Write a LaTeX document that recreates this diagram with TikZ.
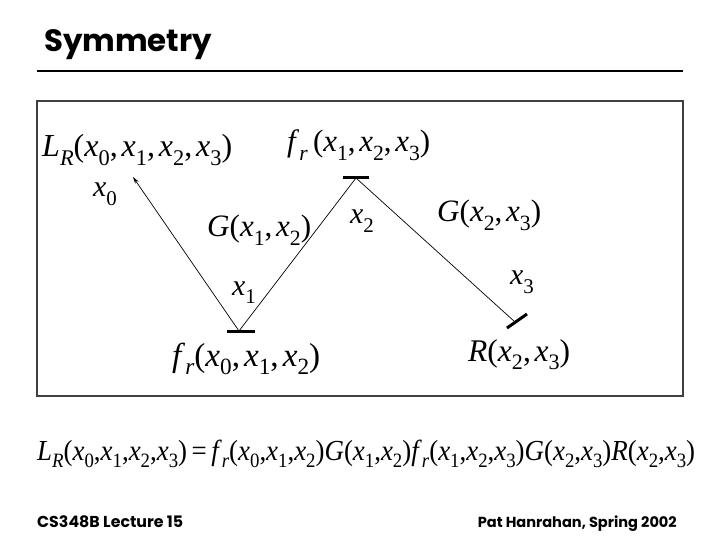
\documentclass[tikz,border=0pt]{standalone}
\usepackage{fontspec}
\setmainfont{Liberation Serif}
\newfontfamily\titlefont{Poppins}
\usetikzlibrary{arrows.meta}
\newcommand\lsub[1]{\raisebox{-0.27em}{\scalebox{0.7}{#1}}}
\newcommand\vx[1]{\textit{x}\lsub{#1}}
\newcommand\vLR{\textit{L}\lsub{\textit{R}}}
\newcommand\vfr{\textit{f}\lsub{\textit{r}}}
\newcommand\cm{,\hspace{0.12em}}
\begin{document}
\begin{tikzpicture}[x=1bp,y=-1bp,
  lab/.style={anchor=base west,inner sep=0pt,font=\fontsize{30}{30}\selectfont},
  bar/.style={line width=3bp},
  ray/.style={line width=0.7bp},
  foot/.style={inner sep=0pt,font=\titlefont\bfseries\fontsize{14.5}{15}\selectfont}]
\useasboundingbox (0,0) rectangle (720,540);
\node[anchor=base west,inner sep=0pt] (title) at (44,52) {\resizebox{168bp}{!}{\titlefont\bfseries\fontsize{32}{32}\selectfont Symmetry}};
\draw[line width=2bp] (37,71) coordinate (r1) -- (683,71) coordinate (r2);
\draw[line width=1.3bp,black!75] (37,101) rectangle (683,396);
% vertices
\coordinate (p0) at (133,177);
\coordinate (p1) at (239,331);
\coordinate (p2) at (356,178);
\coordinate (p3) at (515,322);
\draw[ray,-{Stealth[length=7bp,width=4bp]}] (p1) -- (p0);
\draw[ray] (p1) -- (p2) -- (p3);
\draw[bar] ([xshift=-12bp]p1) -- ([xshift=16bp]p1);
\draw[bar] ([xshift=-13bp]p2) -- ([xshift=13bp]p2);
\draw[bar] ([shift={(-8,6)}]p3) -- ([shift={(12,-8)}]p3);
% labels
\node[lab] (lr) at (42,157) {\resizebox{190bp}{!}{\vLR(\vx0\cm\vx1\cm\vx2\cm\vx3)}};
\node[lab] (f123) at (287,152) {\resizebox{143bp}{!}{\vfr\,(\vx1\cm\vx2\cm\vx3)}};
\node[lab] (x0) at (93,197) {\vx0};
\node[lab] (g12) at (207,237) {\resizebox{104bp}{!}{\textit{G}(\vx1\cm\vx2)}};
\node[lab] (x2) at (350,224) {\vx2};
\node[lab] (g23) at (437,222) {\resizebox{104bp}{!}{\textit{G}(\vx2\cm\vx3)}};
\node[lab] (x1) at (232,295) {\vx1};
\node[lab] (x3) at (510,285) {\vx3};
\node[lab] (f012) at (172,366) {\resizebox{148bp}{!}{\vfr(\vx0\cm\vx1\cm\vx2)}};
\node[lab] (r23) at (468,361) {\resizebox{102bp}{!}{\textit{R}(\vx2\cm\vx3)}};
% equation
\node[lab] (eq) at (37,460) {\scalebox{1}[1.08]{\resizebox{658bp}{!}{\vLR(\vx0,\vx1,\vx2,\vx3)\,=\,\vfr(\vx0,\vx1,\vx2)\textit{G}(\vx1,\vx2)\vfr(\vx1,\vx2,\vx3)\textit{G}(\vx2,\vx3)\textit{R}(\vx2,\vx3)}}};
% footer
\node[foot,anchor=base west] (fl) at (37,527) {\resizebox{146bp}{!}{CS348B Lecture 15}};
\node[foot,anchor=base east] (fr) at (677,527) {\resizebox{199bp}{!}{Pat Hanrahan, Spring 2002}};
\end{tikzpicture}
\end{document}
